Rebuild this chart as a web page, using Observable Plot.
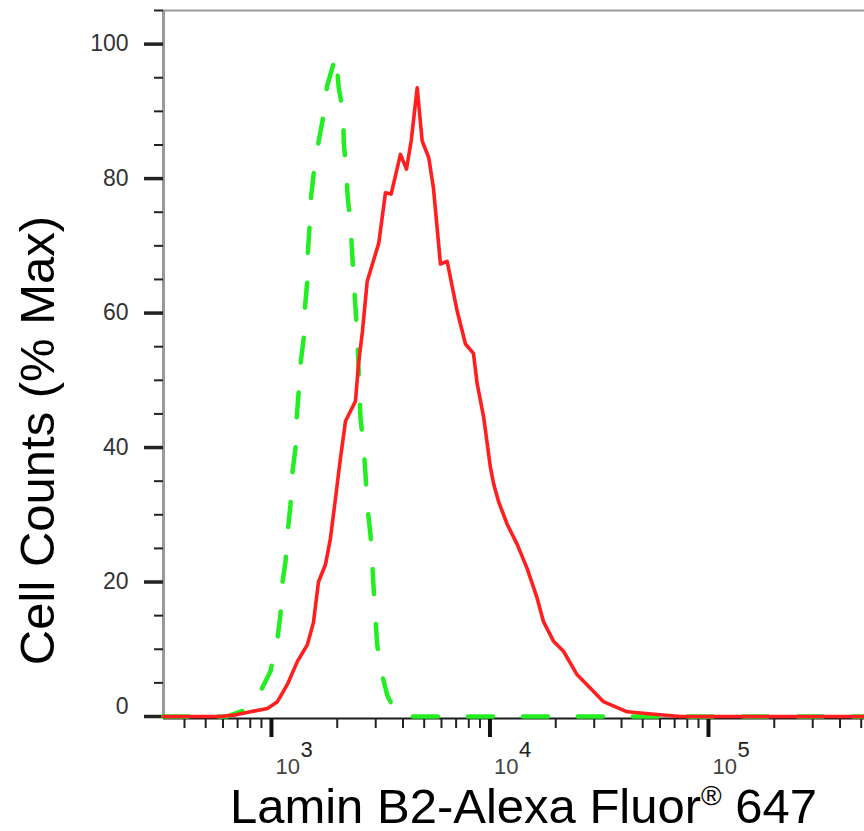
<!DOCTYPE html>
<html><head><meta charset="utf-8">
<script src="https://cdn.jsdelivr.net/npm/d3@7"></script>
<script src="https://cdn.jsdelivr.net/npm/@observablehq/plot@0.6"></script>
<style>body{margin:0;background:#fff} svg{display:block}</style>
</head><body><div id="chart"></div>
<script>
// Fluorescence intensity (x) and % of max cell counts (y)
const redX = [320, 584, 670, 802, 959, 1065, 1184, 1315, 1461, 1557, 1641, 1767, 1862, 1963, 2069, 2182, 2299, 2424, 2502, 2609, 2742, 3098, 3325, 3530, 3894, 4148, 4359, 4645, 4894, 5247, 5513, 5935, 6370, 7077, 7725, 8405, 8738, 9368, 10053, 10413, 10937, 11985, 13322, 14803, 16444, 17575, 19530, 21700, 25066, 28840, 33060, 42460, 58250, 74450, 517600];
const redY = [0, 0, 0.2, 0.7, 1.2, 2.2, 4.8, 8.2, 10.7, 14, 20, 22.6, 26.5, 32.4, 38.4, 43.9, 45.4, 46.9, 52.4, 57.3, 64.7, 70.4, 77.9, 77.7, 83.6, 81.4, 85.6, 93.5, 85.6, 83.1, 78.6, 67.3, 67.7, 60.3, 55.4, 54, 49.5, 44.4, 37, 34.5, 32, 28.6, 25.6, 22, 17.6, 14.1, 11.2, 9.7, 6.2, 4.2, 2.2, 0.7, 0.3, 0, 0];
const greenX = [320, 627, 747, 890, 989, 1062, 1100, 1119, 1159, 1187, 1222, 1244, 1288, 1301, 1333, 1357, 1405, 1423, 1457, 1467, 1493, 1516, 1562, 1646, 1724, 1798, 1928, 1973, 2032, 2129, 2142, 2198, 2235, 2299, 2340, 2380, 2424, 2468, 2494, 2555, 2645, 2694, 2742, 2839, 2891, 2940, 2992, 3046, 3155, 3385, 3628, 3894, 517600];
const greenY = [0, 0, 0.9, 3.7, 6.7, 11.2, 15.2, 19.6, 23, 27.5, 31.5, 36, 39.9, 43.9, 48.4, 52.3, 56.3, 60.8, 64.5, 68.9, 72.7, 77.1, 80.9, 85.6, 89.1, 93.8, 97.2, 98.3, 93.5, 89.8, 85.3, 81.3, 77.1, 73.4, 68.9, 65, 60.8, 56.8, 53.3, 44.4, 39.9, 36, 31.5, 27, 23, 18.6, 14.6, 10.7, 7.2, 3.2, 1.2, 0, 0];

const xDomain = [320.6, 517600];
const yDomain = [0, 105];
const xMajor = [1e3, 1e4, 1e5];
const xExponents = ["3", "4", "5"];
const xMinor = [400, 500, 600, 700, 800, 900, 2000, 3000, 4000, 5000, 6000, 7000, 8000, 9000, 20000, 30000, 40000, 50000, 60000, 70000, 80000, 90000, 200000, 300000, 400000, 500000];
const yMajor = [20, 40, 60, 80, 100];
const yZero = [0];
const yMinor = [5, 10, 15, 25, 30, 35, 45, 50, 55, 65, 70, 75, 85, 90, 95, 105];
const yLabel = "Cell Counts (% Max)";
const xLabelMain = "Lamin B2-Alexa Fluor";
const xLabelSup = "®";
const xLabelEnd = " 647";

const red = redX.map((x, i) => ({x, y: redY[i]}));
const green = greenX.map((x, i) => ({x, y: greenY[i]}));

const font = "'Liberation Sans', Arial, sans-serif";

const plot = Plot.plot({
  width: 864, height: 831,
  marginLeft: 163, marginRight: 0, marginTop: 10, marginBottom: 115,
  style: {fontFamily: font, background: "#fff", overflow: "visible"},
  x: {type: "log", domain: xDomain, axis: null},
  y: {domain: yDomain, axis: null},
  marks: [
    Plot.ruleY([yDomain[1]], {stroke: "#9a9a9a", strokeWidth: 2}),
    Plot.ruleX([xDomain[0]], {stroke: "#999", strokeWidth: 3}),
    Plot.axisY({ticks: yMinor, tickSize: 9, tickFormat: () => "", label: null, stroke: "#222", strokeWidth: 2}),
    Plot.axisY({ticks: yMajor.concat(yZero), tickSize: 19, tickFormat: () => "", label: null, stroke: "#222", strokeWidth: 3.5}),
    Plot.text(yMajor, {x: () => xDomain[0], y: d => d, dx: -35, textAnchor: "end", fontSize: 23, fill: "#333"}),
    Plot.text(yZero, {x: () => xDomain[0], y: d => d, dx: -35, dy: -10, textAnchor: "end", fontSize: 23, fill: "#333"}),
    Plot.ruleY([0], {stroke: "#1a1a1a", strokeWidth: 2, dy: 2}),
    Plot.axisX({ticks: xMinor, tickSize: 10, tickFormat: () => "", label: null, stroke: "#222", strokeWidth: 2, dy: 2}),
    Plot.axisX({ticks: xMajor, tickSize: 19, tickFormat: () => "", label: null, stroke: "#111", strokeWidth: 4, dy: 2}),
    Plot.text(xMajor, {x: d => d, frameAnchor: "bottom", text: () => "10", dx: 4, dy: 57, textAnchor: "start", lineAnchor: "bottom", fontSize: 22, fill: "#444"}),
    Plot.text(xMajor, {x: d => d, frameAnchor: "bottom", text: (d, i) => xExponents[i], dx: 29, dy: 40, textAnchor: "start", lineAnchor: "bottom", fontSize: 22, fill: "#222"}),
    Plot.line(green, {x: "x", y: "y", stroke: "#22ee22", strokeWidth: 4.5, strokeDasharray: "25,30"}),
    Plot.line(red, {x: "x", y: "y", stroke: "#ff1f1f", strokeWidth: 3.6}),
    Plot.text([yLabel], {frameAnchor: "left", rotate: -90, dx: -110, dy: 77, textAnchor: "middle", lineAnchor: "bottom", fontSize: 49, fill: "#000"})
  ]
});

const svg = d3.select(plot);
const t = svg.append("text")
  .attr("x", 523.5).attr("y", 823)
  .attr("text-anchor", "middle")
  .attr("font-size", 49)
  .attr("font-family", font)
  .attr("fill", "#000");
t.append("tspan").text(xLabelMain);
t.append("tspan").text(xLabelSup).attr("font-size", 28).attr("dy", -18);
t.append("tspan").text(xLabelEnd).attr("dy", 18);

document.getElementById("chart").appendChild(plot);
</script>
</body></html>
